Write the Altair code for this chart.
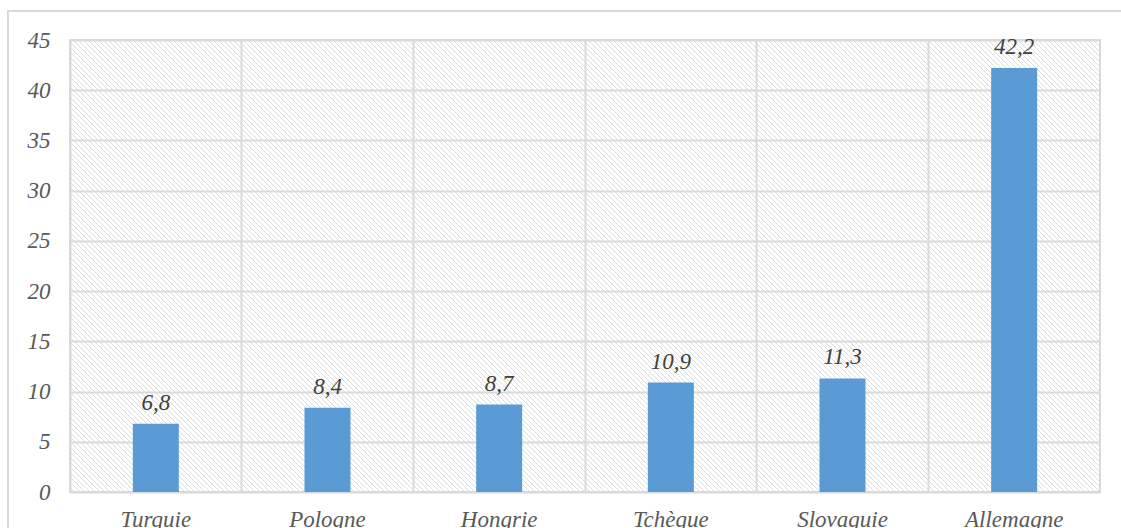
import altair as alt
import pandas as pd

countries = ["Turquie", "Pologne", "Hongrie", "Tchèque", "Slovaquie", "Allemagne"]
values = [6.8, 8.4, 8.7, 10.9, 11.3, 42.2]
y_ticks = [0, 5, 10, 15, 20, 25, 30, 35, 40, 45]

W, H = 1030, 452
FONT = "Liberation Serif"
GRID = "#d9d9d9"

df = pd.DataFrame({"pays": countries, "valeur": values})

# hatch background (decorative diagonal stripes)
hatch = alt.Chart(alt.sequence(start=-H, stop=W + 5, step=5, as_="s")).transform_calculate(
    x1="datum.s", x2="datum.s + %d" % H
).mark_rule(color="#dcdcdc", strokeWidth=1, clip=True).encode(
    x=alt.X("x1:Q", scale=None, axis=None),
    x2="x2:Q",
    y=alt.value(0),
    y2=alt.value(H),
)

frame = alt.Chart(alt.Data(values=[{}])).mark_rect(
    fill=None, stroke=GRID, strokeWidth=2, clip=False
).encode(
    x=alt.value(-62), x2=alt.value(1080), y=alt.value(-29), y2=alt.value(600)
)

xenc = alt.X(
    "pays:N",
    sort=countries,
    scale=alt.Scale(paddingInner=0, paddingOuter=0),
    axis=alt.Axis(
        title=None, labelAngle=0, grid=True, bandPosition=0, gridColor=GRID, gridWidth=2,
        domain=False, ticks=False, labelFont=FONT, labelFontStyle="italic",
        labelFontSize=23, labelColor="#595959", labelPadding=16, labelBaseline="top",
    ),
)
yenc = alt.Y(
    "valeur:Q",
    scale=alt.Scale(domain=[0, 45], nice=False),
    axis=alt.Axis(
        title=None, values=y_ticks, grid=True, gridColor=GRID, gridWidth=2,
        domain=False, ticks=False, labelFont=FONT, labelFontStyle="italic",
        labelFontSize=23, labelColor="#595959", labelPadding=20,
    ),
)

bars = alt.Chart(df).mark_bar(color="#5b9bd5", size=46).encode(x=xenc, y=yenc)

labels = alt.Chart(df).transform_calculate(
    txt="replace(format(datum.valeur, '.1f'), '.', ',')"
).mark_text(
    font=FONT, fontStyle="italic", fontSize=23, color="#404040", dy=-9, baseline="bottom"
).encode(
    x=alt.X("pays:N", sort=countries), y="valeur:Q", text="txt:N"
)

chart = alt.layer(frame, hatch, bars, labels).properties(
    width=W, height=H,
    padding={"left": 70, "top": 40, "right": 21, "bottom": 36},
    autosize=alt.AutoSizeParams(type="none"),
    background="white",
).configure_view(stroke=GRID, strokeWidth=2)

chart.save("out.html", embed_options={"renderer": "svg", "actions": False})
